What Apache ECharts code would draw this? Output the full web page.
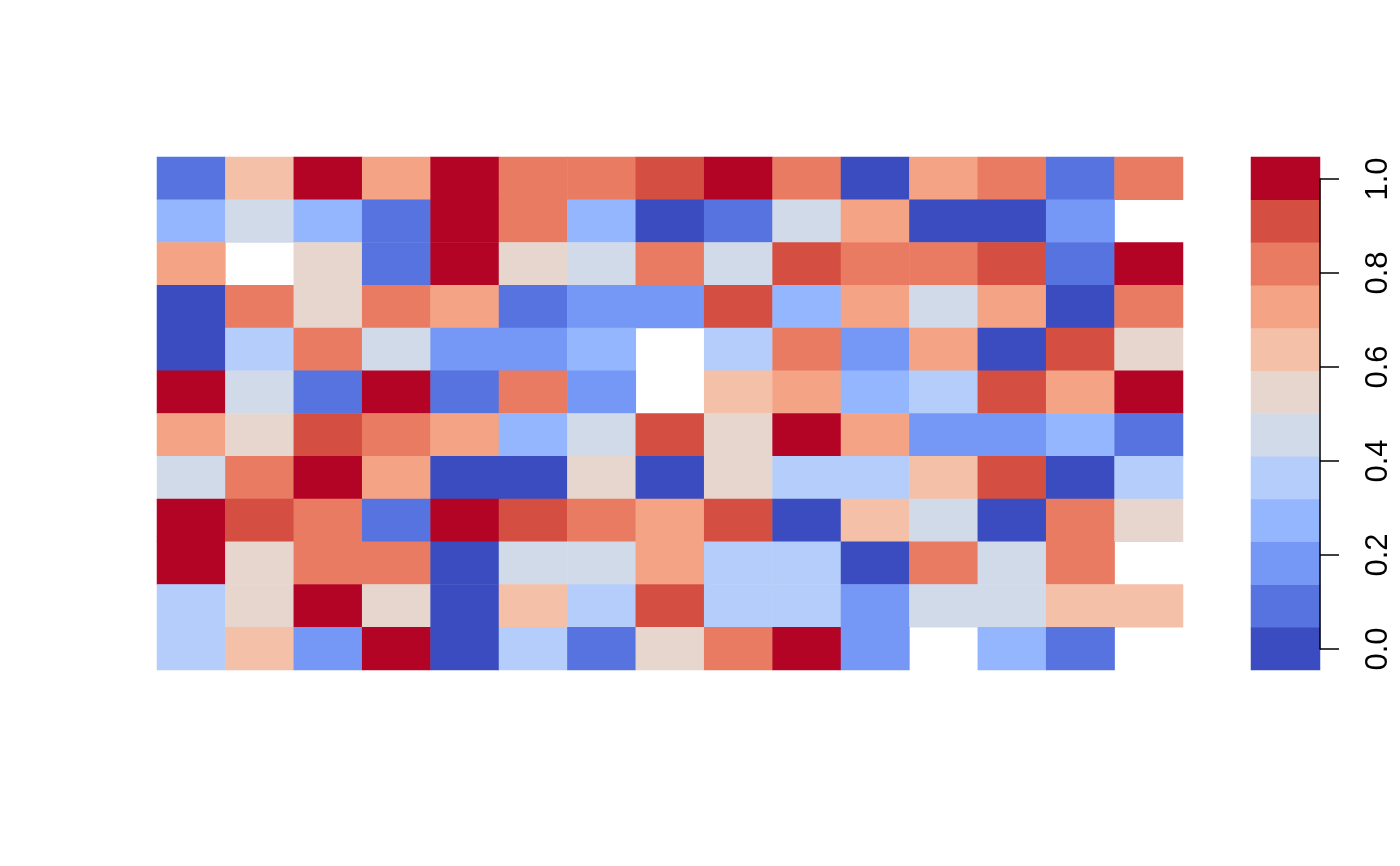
<!DOCTYPE html>
<html>
<head>
<meta charset="utf-8">
<script src="https://cdn.jsdelivr.net/npm/echarts@6/dist/echarts.min.js"></script>
<style>
html, body { margin: 0; padding: 0; background: #fff; }
#main { width: 1400px; height: 866px; }
</style>
</head>
<body>
<div id="main"></div>
<script>
// columns / rows of the image (rows listed top to bottom)
var columns = ['1','2','3','4','5','6','7','8','9','10','11','12','13','14','15'];
var rows = ['1','2','3','4','5','6','7','8','9','10','11','12'];
// colour class of each cell (0 = lowest, 11 = highest), null = missing
var levels = [
	[1, 7, 11, 8, 11, 9, 9, 10, 11, 9, 0, 8, 9, 1, 9],
	[3, 5, 3, 1, 11, 9, 3, 0, 1, 5, 8, 0, 0, 2, null],
	[8, null, 6, 1, 11, 6, 5, 9, 5, 10, 9, 9, 10, 1, 11],
	[0, 9, 6, 9, 8, 1, 2, 2, 10, 3, 8, 5, 8, 0, 9],
	[0, 4, 9, 5, 2, 2, 3, null, 4, 9, 2, 8, 0, 10, 6],
	[11, 5, 1, 11, 1, 9, 2, null, 7, 8, 3, 4, 10, 8, 11],
	[8, 6, 10, 9, 8, 3, 5, 10, 6, 11, 8, 2, 2, 3, 1],
	[5, 9, 11, 8, 0, 0, 6, 0, 6, 4, 4, 7, 10, 0, 4],
	[11, 10, 9, 1, 11, 10, 9, 8, 10, 0, 7, 5, 0, 9, 6],
	[11, 6, 9, 9, 0, 5, 5, 8, 4, 4, 0, 9, 5, 9, null],
	[4, 6, 11, 6, 0, 7, 4, 10, 4, 4, 2, 5, 5, 7, 7],
	[4, 7, 2, 11, 0, 4, 1, 6, 9, 11, 2, null, 3, 1, null]
];
// colour bar classes and its tick labels
var barLevels = [0,1,2,3,4,5,6,7,8,9,10,11];
var barTicks = [0, 0.2, 0.4, 0.6, 0.8, 1.0];
var palette = ['#3B4CC0','#5773E0','#7597F6','#94B6FF','#B4CDFA','#D1DAE8',
	'#E7D6CD','#F4C0A7','#F4A384','#E97B62','#D44E41','#B40426'];

var myChart = echarts.init(document.getElementById('main'), null, {renderer: 'canvas'});

var cells = [];
for (var r = 0; r < rows.length; r++) {
	for (var c = 0; c < columns.length; c++) {
		if (levels[r][c] !== null) {
			cells.push([c, r, levels[r][c]]);
		}
	}
}
var barCells = barLevels.map(function (k) { return [0, k, k]; });

var pieces = palette.map(function (col, k) {
	return {value: k, color: col};
});

var hidden = {show: false};

option = {
	backgroundColor: '#fff',
	animation: false,
	textStyle: {fontFamily: 'Liberation Sans, Arial, sans-serif'},
	grid: [
		{left: 157, top: 157, width: 1026, height: 513},
		{left: 1251, top: 157, width: 69, height: 513},
		//axis of the colour bar only spans 0..1
		{left: 1251, top: 179, width: 69, height: 470}
	],
	xAxis: [
		{type: 'category', gridIndex: 0, data: columns, axisLine: hidden, axisTick: hidden, axisLabel: hidden, splitLine: hidden},
		{type: 'category', gridIndex: 1, data: [''], axisLine: hidden, axisTick: hidden, axisLabel: hidden, splitLine: hidden},
		{type: 'value', gridIndex: 2, min: 0, max: 1, axisLine: hidden, axisTick: hidden, axisLabel: hidden, splitLine: hidden}
	],
	yAxis: [
		{type: 'category', gridIndex: 0, data: rows, inverse: true, axisLine: hidden, axisTick: hidden, axisLabel: hidden, splitLine: hidden},
		{type: 'category', gridIndex: 1, data: barLevels, axisLine: hidden, axisTick: hidden, axisLabel: hidden, splitLine: hidden},
		{
			type: 'value', gridIndex: 2, position: 'right', z: 10,
			min: barTicks[0], max: barTicks[barTicks.length - 1], interval: 0.2,
			splitLine: hidden,
			axisLine: {show: true, onZero: false, lineStyle: {color: '#000', width: 1.5}},
			axisTick: {show: true, inside: false, length: 19, lineStyle: {color: '#000', width: 1.5}},
			axisLabel: {
				show: true, rotate: 90, margin: 43, fontSize: 31, color: '#000',
				fontFamily: 'Liberation Sans, Arial, sans-serif',
				formatter: function (v) { return v.toFixed(1); }
			}
		}
	],
	visualMap: {
		type: 'piecewise', show: false, dimension: 2,
		seriesIndex: [0, 1], pieces: pieces
	},
	series: [
		{
			type: 'heatmap', xAxisIndex: 0, yAxisIndex: 0,
			data: cells, emphasis: {disabled: true}, progressive: 0
		},
		{
			type: 'heatmap', xAxisIndex: 1, yAxisIndex: 1,
			data: barCells, emphasis: {disabled: true}, progressive: 0
		}
	]
};
myChart.setOption(option);
</script>
</body>
</html>
